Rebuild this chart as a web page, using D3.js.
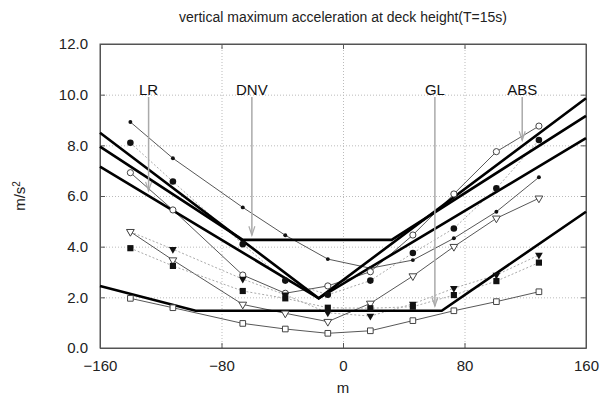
<!DOCTYPE html>
<html>
<head>
<meta charset="utf-8">
<script src="https://cdn.jsdelivr.net/npm/d3@7"></script>
<style>
  body { margin: 0; background: #fff; }
  svg { font-family: "Liberation Sans", Arial, sans-serif; }
</style>
</head>
<body>
<div id="container"></div>
<script>
// ---- data ----
const xTicks = [-160, -80, 0, 80, 160];
const yTicks = [0, 2, 4, 6, 8, 10, 12];
const positions = [-140, -112, -66, -38, -10, 18, 46, 73, 101, 129];

const smallDots    = [8.92, 7.49, 5.55, 4.45, 3.51, 3.15, 3.47, 4.33, 5.38, 6.74];
const circleOpen   = [6.92, 5.45, 2.88, 2.16, 2.45, 3.01, 4.46, 6.08, 7.75, 8.76];
const circleFilled = [8.10, 6.57, 4.10, 2.66, 2.10, 2.66, 3.75, 4.72, 6.30, 8.21];
const triOpen      = [4.59, 3.47, 1.72, 1.37, 1.04, 1.76, 2.84, 4.00, 5.12, 5.91];
const triFilled    = [4.59, 3.90, 2.72, 2.10, 1.39, 1.26, 1.74, 2.36, 2.88, 3.67];
const squareOpen   = [1.96, 1.59, 0.97, 0.75, 0.58, 0.68, 1.08, 1.47, 1.83, 2.22];
const squareFilled = [3.94, 3.24, 2.25, 1.96, 1.59, 1.57, 1.63, 2.09, 2.64, 3.37];

// rule curves (thick lines)
const ruleABS = [[-160, 8.50], [-16, 1.96], [160, 9.86]];
const ruleDNV = [[-160, 7.95], [-66, 4.27], [32, 4.27], [160, 9.16]];
const ruleLR  = [[-160, 7.16], [-16, 1.96], [160, 8.28]];
const ruleGL  = [[-160, 2.45], [-97, 1.47], [65, 1.47], [160, 5.38]];

const ruleNames = ["LR", "DNV", "GL", "ABS"];
const ruleArrowX = [-128, -60, 60.5, 118];
const ruleArrowTip = [6.2, 4.45, 1.65, 8.2];

// ---- chart ----
const W = 606, H = 397;
const margin = { top: 44, right: 20, bottom: 49, left: 100 };
const width = W - margin.left - margin.right;
const height = H - margin.top - margin.bottom;

const svg = d3.select("#container").append("svg")
    .attr("width", W)
    .attr("height", H);

const g = svg.append("g")
    .attr("transform", `translate(${margin.left},${margin.top})`);

const x = d3.scaleLinear().domain([-160, 160]).range([0, width]);
const y = d3.scaleLinear().domain([0, 12]).range([height, 0]);

// grid
g.append("g")
    .attr("class", "grid")
    .attr("transform", `translate(0,${height})`)
    .call(d3.axisBottom(x).tickValues(xTicks.slice(1, -1)).tickSize(-height).tickFormat(""))
    .call(s => s.select(".domain").remove());
g.append("g")
    .attr("class", "grid")
    .call(d3.axisLeft(y).tickValues(yTicks.slice(1, -1)).tickSize(-width).tickFormat(""))
    .call(s => s.select(".domain").remove());
g.selectAll(".grid line")
    .attr("stroke", "#bbb")
    .attr("stroke-dasharray", "1,2");

// axes with inward ticks on all sides
const fmt = d3.format(".1f");
const axB = g.append("g").attr("transform", `translate(0,${height})`)
    .call(d3.axisBottom(x).tickValues(xTicks).tickSizeInner(-5).tickSizeOuter(0).tickPadding(10));
const axL = g.append("g")
    .call(d3.axisLeft(y).tickValues(yTicks).tickFormat(fmt).tickSizeInner(-5).tickSizeOuter(0).tickPadding(12));
g.append("g")
    .call(d3.axisTop(x).tickValues(xTicks).tickSizeInner(-5).tickSizeOuter(0).tickFormat(""));
g.append("g").attr("transform", `translate(${width},0)`)
    .call(d3.axisRight(y).tickValues(yTicks).tickSizeInner(-5).tickSizeOuter(0).tickFormat(""));
g.selectAll(".domain").attr("stroke", "#555");
g.selectAll(".tick line").filter(function() { return !this.closest(".grid"); }).attr("stroke", "#555");
g.selectAll(".tick text").attr("font-size", 15).attr("fill", "#222").attr("font-family", "Liberation Sans, Arial, sans-serif");
axB.selectAll(".tick text").attr("dy", "0.85em");

g.append("rect")
    .attr("width", width)
    .attr("height", height)
    .attr("fill", "none")
    .attr("stroke", "#555");

// data series
const line = d3.line().x(d => x(d[0])).y(d => y(d[1]));
const pts = vals => positions.map((p, i) => [p, vals[i]]);

const series = [
    { v: smallDots,    dash: null,  sym: d3.symbolCircle,   size: 12, fill: true },
    { v: circleFilled, dash: "2,2", sym: d3.symbolCircle,   size: 34, fill: true },
    { v: circleOpen,   dash: null,  sym: d3.symbolCircle,   size: 30, fill: false },
    { v: triFilled,    dash: "2,2", sym: d3.symbolTriangle, size: 26, fill: true, down: true },
    { v: triOpen,      dash: null,  sym: d3.symbolTriangle, size: 26, fill: false, down: true },
    { v: squareFilled, dash: "2,2", sym: d3.symbolSquare,   size: 38, fill: true },
    { v: squareOpen,   dash: null,  sym: d3.symbolSquare,   size: 32, fill: false }
];

series.forEach(s => {
    g.append("path")
        .datum(pts(s.v))
        .attr("d", line)
        .attr("fill", "none")
        .attr("stroke", s.dash ? "#aaa" : "#444")
        .attr("stroke-width", s.dash ? 1 : 0.9)
        .attr("stroke-dasharray", s.dash);
});

// rules
[ruleABS, ruleDNV, ruleLR, ruleGL].forEach(r => {
    g.append("path")
        .datum(r)
        .attr("d", line)
        .attr("fill", "none")
        .attr("stroke", "#000")
        .attr("stroke-width", 2.6);
});

// markers on top
series.forEach(s => {
    g.append("g")
        .selectAll("path")
        .data(pts(s.v))
        .enter().append("path")
        .attr("transform", d => `translate(${x(d[0])},${y(d[1])})${s.down ? " rotate(180)" : ""}`)
        .attr("d", d3.symbol().type(s.sym).size(s.size))
        .attr("fill", s.fill ? "#111" : "#fff")
        .attr("stroke", s.fill ? "none" : "#444")
        .attr("stroke-width", 1);
});

// rule labels with arrows
ruleNames.forEach((name, i) => {
    const ax = x(ruleArrowX[i]);
    const tip = y(ruleArrowTip[i]);
    g.append("text")
        .attr("x", ax)
        .attr("y", 51)
        .attr("text-anchor", "middle")
        .attr("font-size", 15)
        .attr("fill", "#111")
        .text(name);
    g.append("line")
        .attr("x1", ax).attr("x2", ax)
        .attr("y1", 53).attr("y2", tip)
        .attr("stroke", "#aaa")
        .attr("stroke-width", 1.5);
    g.append("path")
        .attr("d", `M${ax - 3},${tip - 9}L${ax},${tip}L${ax + 3},${tip - 9}`)
        .attr("fill", "none")
        .attr("stroke", "#aaa")
        .attr("stroke-width", 1.2);
});

// titles
svg.append("text")
    .attr("x", margin.left + width / 2)
    .attr("y", 22)
    .attr("text-anchor", "middle")
    .attr("font-size", 14)
    .attr("fill", "#222")
    .text("vertical maximum acceleration at deck height(T=15s)");

svg.append("text")
    .attr("x", margin.left + width / 2)
    .attr("y", 393)
    .attr("text-anchor", "middle")
    .attr("font-size", 15)
    .attr("fill", "#222")
    .text("m");

const yl = svg.append("text")
    .attr("transform", `translate(25,${margin.top + height / 2}) rotate(-90)`)
    .attr("text-anchor", "middle")
    .attr("font-size", 15)
    .attr("fill", "#222");
yl.append("tspan").text("m/s");
yl.append("tspan").attr("baseline-shift", "super").attr("font-size", 10).text("2");
</script>
</body>
</html>
